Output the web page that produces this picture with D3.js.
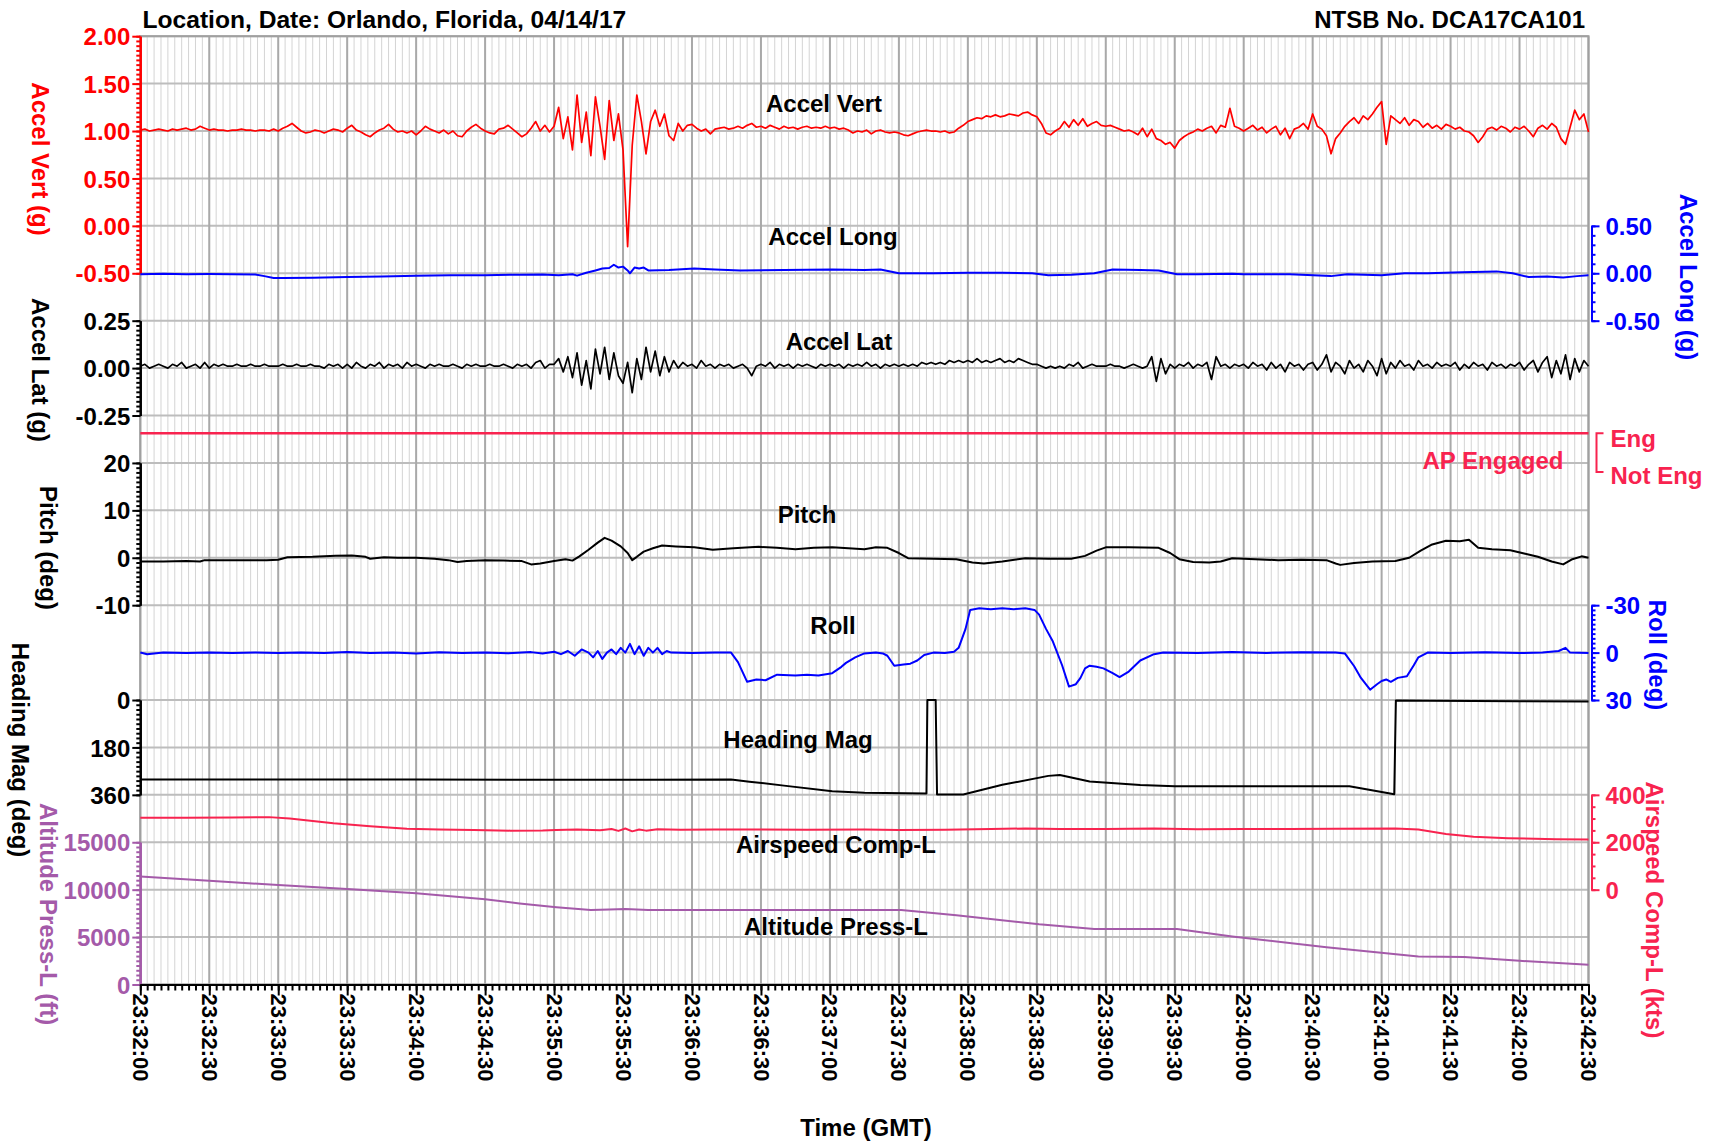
<!DOCTYPE html>
<html>
<head>
<meta charset="utf-8">
<script src="https://cdn.jsdelivr.net/npm/d3@7"></script>
<style>
  body { margin: 0; background: #fff; }
  svg text { font-family: "Liberation Sans", Arial, sans-serif; font-weight: bold; }
</style>
</head>
<body>
<div id="chart"></div>
<script>
// all times are seconds after 23:32:00 GMT
const startTime = Date.UTC(2017, 3, 14, 23, 32, 0)
const endSec = 630

// Accel Vert (g), one value every 2 s
const vertStep = 2
const accelVert = [
  1.01,1.02,1.00,1.01,1.02,1.01,1.00,1.02,1.01,1.02,1.03,1.01,1.02,1.05,1.03,
  1.01,1.02,1.01,1.01,1.00,1.01,1.01,1.02,1.01,1.01,1.00,1.01,1.01,1.00,1.02,
  1.00,1.03,1.05,1.08,1.04,1.00,0.98,0.99,1.01,1.00,0.98,1.00,1.02,1.01,0.99,
  1.03,1.06,1.01,0.99,0.96,0.94,0.98,1.01,1.03,1.07,1.02,0.99,1.00,0.98,1.00,
  0.96,1.00,1.05,1.02,1.00,0.98,1.01,0.97,1.00,0.95,0.94,1.00,1.04,1.07,1.03,
  1.00,0.98,0.97,1.02,1.03,1.06,1.02,0.98,0.94,0.97,1.03,1.10,1.00,1.06,0.99,
  1.05,1.25,0.92,1.15,0.80,1.38,0.88,1.20,0.74,1.36,1.05,0.70,1.32,0.90,1.18,
  0.80,-0.22,0.85,1.38,1.10,0.76,1.10,1.22,1.05,1.18,0.95,0.90,1.08,1.00,1.06,
  1.07,1.03,1.00,1.02,0.97,1.02,1.03,1.04,1.02,1.03,1.05,1.03,1.06,1.08,1.04,
  1.05,1.03,1.06,1.04,1.02,1.05,1.03,1.04,1.02,1.04,1.05,1.03,1.04,1.03,1.05,
  1.03,1.04,1.02,1.03,1.01,0.98,1.00,0.99,1.01,0.97,1.00,1.01,0.99,0.98,0.99,
  0.98,0.96,0.95,0.97,0.99,1.00,1.01,1.00,1.00,0.99,1.00,0.98,0.99,1.03,1.06,
  1.10,1.12,1.14,1.13,1.16,1.15,1.17,1.15,1.16,1.18,1.17,1.16,1.19,1.20,1.17,
  1.15,1.08,0.98,0.96,1.00,1.03,1.10,1.04,1.12,1.06,1.13,1.05,1.08,1.10,1.06,
  1.05,1.06,1.04,1.02,1.00,1.01,0.99,0.96,1.03,0.94,1.02,0.92,0.90,0.86,0.88,
  0.82,0.90,0.94,0.97,0.99,1.02,1.00,1.03,1.05,0.98,1.06,1.04,1.24,1.05,1.03,
  1.00,1.03,1.06,1.01,1.04,0.98,1.02,1.05,0.96,1.03,0.92,1.02,1.04,1.08,1.02,
  1.18,1.05,1.02,0.95,0.76,0.92,0.98,1.05,1.10,1.14,1.08,1.16,1.12,1.18,1.25,
  1.31,0.86,1.16,1.12,1.08,1.14,1.06,1.12,1.10,1.04,1.08,1.03,1.06,1.02,1.07,
  1.05,1.02,1.04,1.00,0.99,0.95,0.88,0.94,1.02,1.04,1.01,1.05,1.03,0.99,1.04,
  1.02,1.05,1.00,0.94,1.03,1.06,1.02,1.08,1.04,0.92,0.86,1.04,1.22,1.12,1.18,
  0.99
]

// Accel Lat (g), one value every 2 s
const latStep = 2
const accelLat = [
  0.01,0.02,0.00,0.01,0.02,0.01,0.00,0.02,0.01,0.03,0.00,0.01,0.02,0.00,0.03,
  0.00,0.02,0.01,0.02,0.01,0.01,0.02,0.01,0.01,0.02,0.01,0.01,0.02,0.01,0.01,
  0.01,0.02,0.01,0.01,0.02,0.01,0.01,0.02,0.01,0.01,0.00,0.02,0.01,0.02,0.00,
  0.02,0.00,0.03,0.01,0.00,0.02,0.01,0.03,0.00,0.02,0.01,0.02,0.00,0.03,0.01,
  0.02,0.01,0.00,0.02,0.01,0.02,0.01,0.01,0.02,0.01,0.00,0.02,0.01,0.02,0.01,
  0.01,0.02,0.01,0.01,0.02,0.01,0.00,0.02,0.01,0.02,0.00,0.03,0.04,0.00,0.02,
  0.02,0.05,-0.02,0.06,-0.05,0.08,-0.09,0.04,-0.11,0.10,-0.03,0.11,-0.06,0.08,-0.04,
  -0.08,0.03,-0.13,0.05,-0.06,0.11,-0.02,0.09,-0.04,0.06,-0.02,0.04,0.00,0.03,0.01,
  0.02,0.00,0.04,0.01,0.02,0.00,0.02,0.01,0.02,0.00,0.01,0.02,0.00,-0.04,0.01,
  0.02,0.01,0.03,0.00,0.02,0.01,0.02,0.00,0.02,0.01,0.02,0.01,0.00,0.02,0.01,
  0.02,0.01,0.02,0.00,0.02,0.01,0.02,0.01,0.03,0.01,0.02,0.00,0.02,0.01,0.02,
  0.01,0.02,0.01,0.02,0.01,0.03,0.02,0.03,0.02,0.03,0.02,0.04,0.03,0.04,0.03,
  0.04,0.03,0.05,0.03,0.04,0.03,0.04,0.05,0.03,0.04,0.03,0.05,0.04,0.03,0.02,
  0.02,0.01,0.00,0.01,0.00,0.01,0.00,0.02,0.01,0.03,0.00,0.01,0.02,0.01,0.01,
  0.01,0.02,0.01,0.01,0.00,0.01,0.02,0.01,0.00,0.01,0.06,-0.07,0.05,-0.03,0.02,
  0.00,0.02,0.01,0.03,0.00,0.02,0.01,0.03,-0.06,0.06,0.01,0.02,0.00,0.02,0.01,
  0.02,0.00,0.03,0.01,0.02,-0.01,0.03,0.00,0.02,-0.02,0.03,0.01,0.02,-0.01,0.02,
  0.03,-0.01,0.02,0.07,-0.02,0.03,0.01,-0.03,0.04,0.00,0.02,-0.02,0.04,0.01,-0.04,
  0.05,-0.03,0.03,0.00,0.04,0.01,0.02,-0.01,0.04,0.01,0.02,0.00,0.03,0.01,0.02,
  0.01,0.03,-0.01,0.02,0.00,0.03,0.01,0.02,-0.01,0.03,0.01,0.02,0.00,0.02,0.01,
  0.03,-0.01,0.02,0.04,-0.02,0.03,0.06,-0.05,0.04,-0.03,0.07,-0.06,0.05,-0.02,0.04,
  0.01
]

// [seconds, g]
const accelLong = [[0,-0.01],[10,-0.005],[20,-0.01],[30,-0.008],[40,-0.01],[50,-0.012],[54,-0.03],[58,-0.05],
  [62,-0.05],[75,-0.048],[90,-0.04],[105,-0.035],[120,-0.025],[135,-0.022],[150,-0.02],[165,-0.015],
  [175,-0.012],[182,-0.02],[188,-0.01],[190,-0.025],[194,0.005],[198,0.03],[201,0.05],[204,0.055],
  [206,0.09],[208,0.06],[210,0.07],[212,0.03],[213,0.0],[215,0.06],[217,0.05],[219,0.06],[221,0.03],
  [230,0.035],[241,0.05],[250,0.04],[261,0.03],[280,0.035],[301,0.04],[315,0.035],[322,0.04],
  [330,0.0],[345,0.0],[360,0.005],[375,0.005],[388,0.0],[395,-0.02],[405,-0.015],[415,0.0],[423,0.04],
  [435,0.035],[443,0.03],[451,-0.01],[460,-0.01],[475,-0.005],[480,-0.01],[500,-0.01],[518,-0.03],
  [525,-0.01],[540,-0.02],[550,0.0],[560,0.0],[575,0.01],[590,0.02],[597,0.0],[604,-0.04],
  [612,-0.035],[619,-0.045],[625,-0.03],[630,-0.02]]

// [seconds, 1 = engaged]
const apEngaged = [[0,1],[630,1]]

// [seconds, deg]
const pitch = [[0,-0.8],[10,-0.8],[20,-0.7],[26,-0.8],[28,-0.5],[40,-0.5],[55,-0.5],[60,-0.4],[64,0.1],
  [75,0.2],[85,0.4],[92,0.5],[98,0.2],[100,-0.2],[106,0.1],[112,0.0],[120,0.0],[128,-0.2],[134,-0.5],
  [138,-0.9],[142,-0.7],[150,-0.5],[158,-0.6],[166,-0.7],[170,-1.4],[174,-1.2],[180,-0.7],[185,-0.3],
  [188,-0.6],[191,0.3],[195,1.7],[199,3.2],[202,4.2],[205,3.6],[209,2.4],[212,1.0],[214,-0.5],[216,0.2],
  [219,1.3],[223,2.0],[227,2.6],[233,2.4],[241,2.2],[249,1.7],[258,2.0],[269,2.3],[277,2.1],[285,1.8],
  [293,2.1],[301,2.2],[308,2.0],[315,1.8],[320,2.2],[325,2.1],[330,1.0],[334,-0.1],[345,-0.2],[355,-0.3],
  [362,-1.0],[367,-1.2],[375,-0.8],[385,-0.1],[395,-0.2],[405,-0.2],[411,0.4],[416,1.5],[420,2.2],
  [430,2.2],[443,2.1],[448,1.0],[452,-0.3],[458,-0.9],[465,-1.0],[470,-0.8],[475,-0.1],[485,-0.3],
  [495,-0.5],[505,-0.4],[516,-0.5],[520,-1.2],[522,-1.5],[528,-1.1],[536,-0.8],[546,-0.7],[552,0.0],
  [557,1.5],[562,2.8],[568,3.6],[574,3.5],[578,3.8],[582,2.1],[588,1.8],[596,1.6],[602,0.9],[608,0.2],
  [614,-0.8],[619,-1.4],[623,-0.3],[627,0.3],[630,0.0]]

// [seconds, deg]
const roll = [[0,0],[3,1],[6,0.5],[10,0],[20,0.3],[30,0],[40,0.2],[50,0],[60,0.3],[70,0],[80,0.2],[90,-0.3],
  [100,0.2],[110,0],[120,0.5],[130,-0.2],[140,0.3],[150,0],[160,0.4],[170,-0.3],[175,0.5],[180,-0.5],
  [183,1],[186,-1],[189,2],[192,-2],[195,0],[197,3],[199,-1],[201,4],[203,0],[205,-2],[207,1],[209,-3],
  [211,0],[213,-5.5],[215,1],[217,-4],[219,2],[221,-3],[223,0],[225,-3],[227,1],[229,-1],[231,0],
  [240,0.3],[250,0],[257,0],[260,6],[264,18.5],[268,17],[272,17.5],[277,14],[285,14.5],[290,14],
  [295,14.5],[301,13],[305,9],[307,6.5],[311,3],[315,0.5],[320,0],[323,0.5],[325,2],[328,8.3],[332,7.5],
  [335,7],[338,5],[341,1.5],[345,0],[350,0.3],[354,-0.5],[356,-3],[359,-15],[361,-27],[365,-28],
  [370,-27.5],[375,-28],[380,-27.5],[385,-28],[389,-27],[391,-24],[394,-15],[397,-7],[401,8],[404,21.5],
  [407,20],[409,16],[411,10],[413,8.3],[416,9],[419,10],[423,13],[426,15.5],[430,12],[435,5],[441,1],
  [445,0],[460,0.3],[475,-0.3],[490,0.2],[505,-0.2],[520,0],[524,0.5],[528,8.5],[531,16],[535,23.5],
  [538,20],[540,18],[542,17],[544,18.5],[547,16],[551,15],[554,8],[556,3],[560,0],[570,0.3],[585,-0.2],
  [600,0.3],[610,0],[617,-1],[620,-3],[622,0],[630,0.2]]

// [seconds, deg]
const heading = [[0,302],[60,302],[120,302],[180,303],[220,303],[257,302],[265,310],[280,325],[301,346],
  [315,352],[342,355],[342.4,0],[346,0],[346.6,359],[358,359],[375,322],[395,288],[400,285],[413,309],
  [435,323],[450,327],[500,327],[526,327],[545.5,358],[546.2,2],[560,3],[600,5],[630,6]]

// [seconds, kts]
const airspeed = [[0,303],[20,303],[40,304],[56,306],[65,300],[84,280],[100,268],[116,257],[130,254],
  [145,252],[161,249],[175,250],[181,252],[190,254],[200,251],[205,256],[208,248],[211,258],[214,246],
  [217,254],[220,249],[225,255],[235,253],[250,254],[270,254],[290,253],[315,254],[330,252],[350,253],
  [370,256],[385,258],[400,256],[420,256],[441,258],[460,255],[480,256],[500,256],[520,257],[546,258],
  [556,254],[568,235],[580,223],[595,217],[616,213],[630,212]]

// [seconds, ft]
const altitude = [[0,11400],[30,10950],[60,10480],[90,10080],[120,9620],[150,9000],[165,8550],[181,8150],
  [196,7850],[204,7900],[211,7960],[221,7850],[260,7850],[300,7850],[331,7850],[355,7300],[391,6350],
  [415,5850],[451,5850],[475,5070],[516,3920],[556,2960],[576,2900],[600,2500],[630,2080]]

const red = "#ff0000", blue = "#0000ff", crimson = "#f8234f", purple = "#a45aa9"

const width = 1719, height = 1143
const plotL = 140.3, plotR = 1588.5, plotT = 36.2, plotB = 984.5
const rowH = (plotB - plotT) / 20
const rowY = k => plotT + k * rowH

// plain hyphen for negative tick labels
const locale = d3.formatLocale({decimal: ".", thousands: ",", grouping: [3], currency: ["$", ""], minus: "-"})

const svg = d3.select("#chart").append("svg")
    .attr("width", width)
    .attr("height", height)

const t0 = new Date(startTime), t1 = new Date(startTime + endSec * 1000)
const x = d3.scaleUtc().domain([t0, t1]).range([plotL, plotR])
const xs = s => x(new Date(startTime + s * 1000))

// scales, each panel gets a slice of the 20 grid rows
const vertY = d3.scaleLinear().domain([-0.5, 2]).range([rowY(5), rowY(0)])
const longY = d3.scaleLinear().domain([-0.5, 0.5]).range([rowY(6), rowY(4)])
const latY = d3.scaleLinear().domain([-0.25, 0.25]).range([rowY(8), rowY(6)])
const apY = d3.scaleLinear().domain([0, 1]).range([rowY(9.19), rowY(8.375)])
const pitchY = d3.scaleLinear().domain([-10, 20]).range([rowY(12), rowY(9)])
const rollY = d3.scaleLinear().domain([-30, 30]).range([rowY(12), rowY(14)])
const headY = d3.scaleLinear().domain([0, 360]).range([rowY(14), rowY(16)])
const speedY = d3.scaleLinear().domain([0, 400]).range([rowY(18), rowY(16)])
const altY = d3.scaleLinear().domain([0, 15000]).range([rowY(20), rowY(17)])

// grid
const grid = svg.append("g")
grid.selectAll(".vmin")
    .data(d3.utcSecond.every(3).range(t0, new Date(+t1 + 1)))
    .join("line")
    .attr("x1", d => x(d)).attr("x2", d => x(d))
    .attr("y1", plotT).attr("y2", plotB)
    .attr("stroke", "#d4d4d4").attr("stroke-width", 1)
grid.selectAll(".hrow")
    .data(d3.range(0, 21))
    .join("line")
    .attr("x1", plotL).attr("x2", plotR)
    .attr("y1", d => rowY(d)).attr("y2", d => rowY(d))
    .attr("stroke", "#bdbdbd").attr("stroke-width", 2)
grid.selectAll(".vmaj")
    .data(d3.utcSecond.every(30).range(t0, new Date(+t1 + 1)))
    .join("line")
    .attr("x1", d => x(d)).attr("x2", d => x(d))
    .attr("y1", plotT).attr("y2", plotB)
    .attr("stroke", "#a9a9a9").attr("stroke-width", 2)

svg.append("rect")
    .attr("x", plotL).attr("y", plotT)
    .attr("width", plotR - plotL).attr("height", plotB - plotT)
    .attr("fill", "none").attr("stroke", "#a0a0a0").attr("stroke-width", 2)

// y axes: major ticks with labels plus small minor ticks
function yAxis(scale, side, color, majors, minorStep, fmt) {
    const xPos = side === "left" ? plotL : plotR + 3
    const g = svg.append("g").attr("transform", `translate(${xPos},0)`)
    const [lo, hi] = scale.domain()
    const minors = d3.range(lo, hi + minorStep / 2, minorStep)
    const minorAx = (side === "left" ? d3.axisLeft(scale) : d3.axisRight(scale))
        .tickValues(minors).tickSize(4).tickSizeOuter(0).tickFormat("")
    const majorAx = (side === "left" ? d3.axisLeft(scale) : d3.axisRight(scale))
        .tickValues(majors).tickSize(8).tickSizeOuter(0)
        .tickPadding(side === "left" ? 2 : 6).tickFormat(fmt)
    g.append("g").call(minorAx)
    g.append("g").call(majorAx)
    g.selectAll("path, line").attr("stroke", color).attr("stroke-width", 2)
    g.selectAll("text")
        .attr("fill", color)
        .attr("font-size", 24)
        .attr("dy", "0.36em")
}

yAxis(vertY, "left", red, [2, 1.5, 1, 0.5, 0, -0.5], 0.05, locale.format(".2f"))
yAxis(latY, "left", "#000", [0.25, 0, -0.25], 0.025, locale.format(".2f"))
yAxis(pitchY, "left", "#000", [20, 10, 0, -10], 1, locale.format("d"))
yAxis(headY, "left", "#000", [0, 180, 360], 18, locale.format("d"))
yAxis(altY, "left", purple, [15000, 10000, 5000, 0], 500, locale.format("d"))
yAxis(longY, "right", blue, [0.5, 0, -0.5], 0.1, locale.format(".2f"))
yAxis(rollY, "right", blue, [-30, 0, 30], 3, locale.format("d"))
yAxis(speedY, "right", crimson, [400, 200, 0], 50, locale.format("d"))

// AP engaged discrete scale, drawn as a bracket
const apG = svg.append("g").attr("fill", "none").attr("stroke", crimson).attr("stroke-width", 2)
apG.append("path")
    .attr("d", `M${plotR + 15},${apY(1)}H${plotR + 8}V${apY(0)}H${plotR + 15}`)
svg.append("text").attr("x", plotR + 22).attr("y", apY(1) + 5).attr("dy", "0.36em")
    .attr("fill", crimson).attr("font-size", 24).text("Eng")
svg.append("text").attr("x", plotR + 22).attr("y", apY(0) + 3).attr("dy", "0.36em")
    .attr("fill", crimson).attr("font-size", 24).text("Not Eng")

// time axis
const xg = svg.append("g").attr("transform", `translate(0,${plotB})`)
xg.append("g").call(d3.axisBottom(x)
    .tickValues(d3.utcSecond.every(3).range(t0, new Date(+t1 + 1)))
    .tickSize(6).tickSizeOuter(0).tickFormat(""))
xg.append("g").call(d3.axisBottom(x)
    .tickValues(d3.utcSecond.every(30).range(t0, new Date(+t1 + 1)))
    .tickSize(11).tickSizeOuter(0).tickFormat(d3.utcFormat("%H:%M:%S")))
xg.selectAll("path, line").attr("stroke", "#000").attr("stroke-width", 2)
xg.selectAll("text")
    .attr("font-size", 22)
    .attr("fill", "#000")
    .attr("transform", "rotate(90)")
    .attr("x", 9)
    .attr("y", 0)
    .attr("dy", "0.36em")
    .style("text-anchor", "start")

// series
function drawLine(data, scale, color, w) {
    svg.append("path")
        .datum(data)
        .attr("fill", "none")
        .attr("stroke", color)
        .attr("stroke-width", w)
        .attr("stroke-linejoin", "round")
        .attr("d", d3.line().x(d => xs(d[0])).y(d => scale(d[1])))
}

drawLine(altitude, altY, purple, 2)
drawLine(airspeed, speedY, crimson, 2)
drawLine(heading, headY, "#000", 2)
drawLine(roll, rollY, blue, 2)
drawLine(pitch, pitchY, "#000", 2)
drawLine(apEngaged, apY, crimson, 2.5)
drawLine(accelLat.map((v, i) => [i * latStep, v]), latY, "#000", 1.7)
drawLine(accelLong, longY, blue, 2)
drawLine(accelVert.map((v, i) => [i * vertStep, v]), vertY, red, 1.7)

// labels
function label(txt, cx, cy, color, rotate) {
    svg.append("text")
        .attr("x", cx).attr("y", cy)
        .attr("text-anchor", "middle")
        .attr("dy", "0.36em")
        .attr("font-size", 24)
        .attr("fill", color)
        .attr("transform", rotate ? `rotate(90,${cx},${cy})` : null)
        .text(txt)
}

label("Accel Vert", 824, 103, "#000")
label("Accel Long", 833, 236, "#000")
label("Accel Lat", 839, 341, "#000")
label("AP Engaged", 1493, 460, crimson)
label("Pitch", 807, 514, "#000")
label("Roll", 833, 625, "#000")
label("Heading Mag", 798, 739, "#000")
label("Airspeed Comp-L", 836, 844, "#000")
label("Altitude Press-L", 836, 926, "#000")

label("Accel Vert (g)", 41, 159, red, true)
label("Accel Lat (g)", 41, 370, "#000", true)
label("Pitch (deg)", 49, 548, "#000", true)
label("Heading Mag (deg)", 21, 750, "#000", true)
label("Altitude Press-L (ft)", 49, 914, purple, true)
label("Accel Long (g)", 1689, 277, blue, true)
label("Roll (deg)", 1658, 655, blue, true)
label("Airspeed Comp-L (kts)", 1655, 910, crimson, true)

label("Time (GMT)", 866, 1127, "#000")

svg.append("text").attr("x", 142.5).attr("y", 27.5)
    .attr("font-size", 24.6).attr("fill", "#000")
    .text("Location, Date: Orlando, Florida, 04/14/17")
svg.append("text").attr("x", 1585).attr("y", 27.5)
    .attr("text-anchor", "end")
    .attr("font-size", 24).attr("fill", "#000")
    .text("NTSB No. DCA17CA101")
</script>
</body>
</html>
